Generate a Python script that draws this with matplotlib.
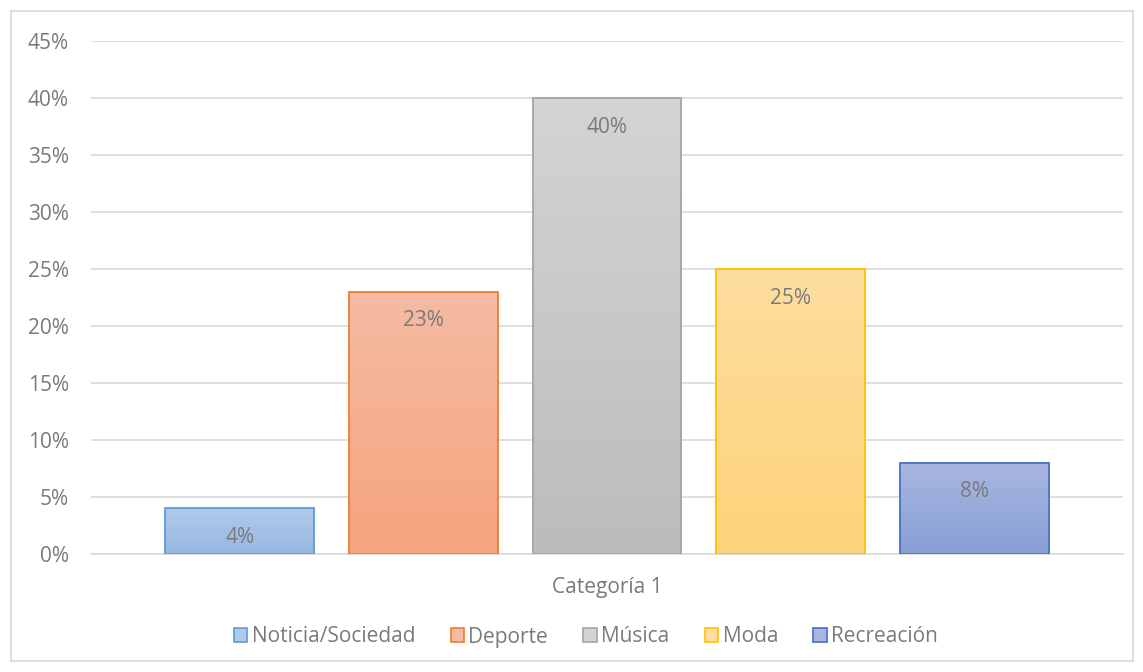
import numpy as np
import matplotlib.pyplot as plt
from matplotlib.patches import Rectangle, Patch
from matplotlib.colors import LinearSegmentedColormap

plt.rcParams['font.family'] = ['Open Sans', 'DejaVu Sans']

# data
series = ['Noticia/Sociedad', 'Deporte', 'Música', 'Moda', 'Recreación']
values = [0.04, 0.23, 0.40, 0.25, 0.08]
category = 'Categoría 1'
yticks = [0, 0.05, 0.10, 0.15, 0.20, 0.25, 0.30, 0.35, 0.40, 0.45]

edge_colors = ['#5B9BD5', '#ED7D31', '#A5A5A5', '#FFC000', '#4472C4']
top_colors = ['#B1CAE9', '#F4BBA3', '#D4D4D4', '#FEDE9F', '#A9B6E0']
bottom_colors = ['#97B7E2', '#F6A47E', '#BCBCBC', '#FDD37A', '#889FD6']
text_color = '#7A7A7A'

fig = plt.figure(figsize=(11.43, 6.72), dpi=100)
ax = fig.add_axes([91 / 1143, 1 - 554 / 672, 1032 / 1143, 513 / 672])

width = 0.811
x = np.arange(len(values))
for i, v in enumerate(values):
    left = x[i] - width / 2
    rect = Rectangle((left, 0), width, v, facecolor='none',
                     edgecolor=edge_colors[i], linewidth=1.3, zorder=3)
    ax.add_patch(rect)
    cmap = LinearSegmentedColormap.from_list('g', [bottom_colors[i], top_colors[i]])
    grad = np.linspace(0, 1, 100).reshape(-1, 1)
    im = ax.imshow(grad, cmap=cmap, origin='lower', aspect='auto',
                   extent=(left, left + width, 0, v), zorder=2)
    im.set_clip_path(rect)
    ax.annotate(f'{round(v * 100)}%', (x[i], v), xytext=(0, -21),
                textcoords='offset points', ha='center', va='center',
                fontsize=15, color=text_color, zorder=4)

ax.set_xlim(-0.809, 4.809)
ax.set_ylim(0, 0.45)
ax.set_yticks(yticks)
ax.set_yticklabels([f'{round(t * 100)}%' for t in yticks])
ax.yaxis.grid(True, color='#D9D9D9', linewidth=1.2, zorder=0)
ax.set_axisbelow(True)
ax.tick_params(axis='y', length=0, labelsize=15, labelcolor=text_color, pad=16)
ax.set_xticks([])
for s in ['top', 'right', 'left']:
    ax.spines[s].set_visible(False)
ax.spines['bottom'].set_color('#D9D9D9')
ax.spines['bottom'].set_linewidth(1.2)

fig.text(607 / 1143, 1 - 587 / 672, category, ha='center', va='center',
         fontsize=15, color=text_color)

handles = [Patch(facecolor=top_colors[i], edgecolor=edge_colors[i], linewidth=1.2)
           for i in range(len(series))]
fig.legend(handles, series, loc='center', bbox_to_anchor=(586 / 1143, 1 - 637 / 672),
           ncol=5, frameon=False, fontsize=15, labelcolor=text_color,
           handlelength=0.65, handleheight=0.65, handletextpad=0.2, columnspacing=1.7)

# outer border
fig.add_artist(Rectangle((11 / 1143, 11 / 672), 1122 / 1143, 650 / 672,
                         transform=fig.transFigure, fill=False,
                         edgecolor='#D9D9D9', linewidth=1.2))

fig.savefig('out.png', dpi=100)
